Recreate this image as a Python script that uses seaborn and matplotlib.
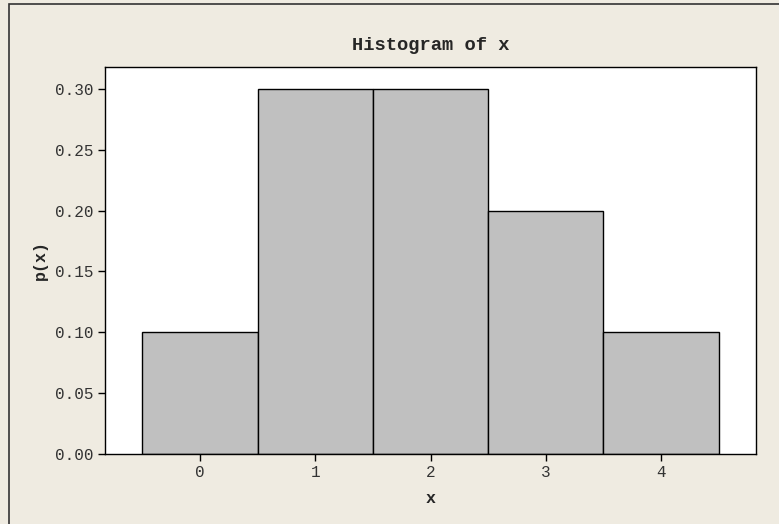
import seaborn as sns
import matplotlib.pyplot as plt
import pandas as pd
from matplotlib.patches import Rectangle

# данные
x_vals = ['0', '1', '2', '3', '4']
p_vals = [0.10, 0.30, 0.30, 0.20, 0.10]
y_ticks = [0.00, 0.05, 0.10, 0.15, 0.20, 0.25, 0.30]

df = pd.DataFrame({'x': x_vals, 'p': p_vals})

sns.set_style("white")
plt.rcParams['font.family'] = ['Liberation Mono', 'DejaVu Sans']

bg = '#efebe1'
fig = plt.figure(figsize=(7.79, 5.24), dpi=100, facecolor=bg)
ax = fig.add_axes([105 / 779, 1 - 454 / 524, (756 - 105) / 779, (454 - 67) / 524])

sns.barplot(data=df, x='x', y='p', color='#c0c0c0', saturation=1,
            width=1.0, edgecolor='black', linewidth=1.0, ax=ax)

ax.set_xlim(-0.825, 4.825)
ax.set_ylim(0, 0.318)
ax.set_yticks(y_ticks)
ax.set_yticklabels([f'{v:.2f}' for v in y_ticks])

for s in ax.spines.values():
    s.set_visible(True)
    s.set_color('black')
    s.set_linewidth(1.0)

ax.tick_params(axis='both', which='both', direction='out', length=5, width=1,
               color='black', labelsize=11.5, labelcolor='#333333',
               left=True, bottom=True, pad=3)

ax.set_title('Histogram of x', fontsize=13.5, fontweight='bold', pad=12)
ax.set_xlabel('x', fontsize=12, fontweight='bold', labelpad=8)
ax.set_ylabel('p(x)', fontsize=12, fontweight='bold')
ax.yaxis.set_label_coords(-0.088, 0.5)

# рамка фигуры
fig.patches.append(Rectangle((9 / 779, -0.05), 1.2, 1.05 - 4 / 524,
                             transform=fig.transFigure, fill=False,
                             edgecolor='#333333', linewidth=1.2))

fig.savefig('out.png', dpi=100, facecolor=bg)
